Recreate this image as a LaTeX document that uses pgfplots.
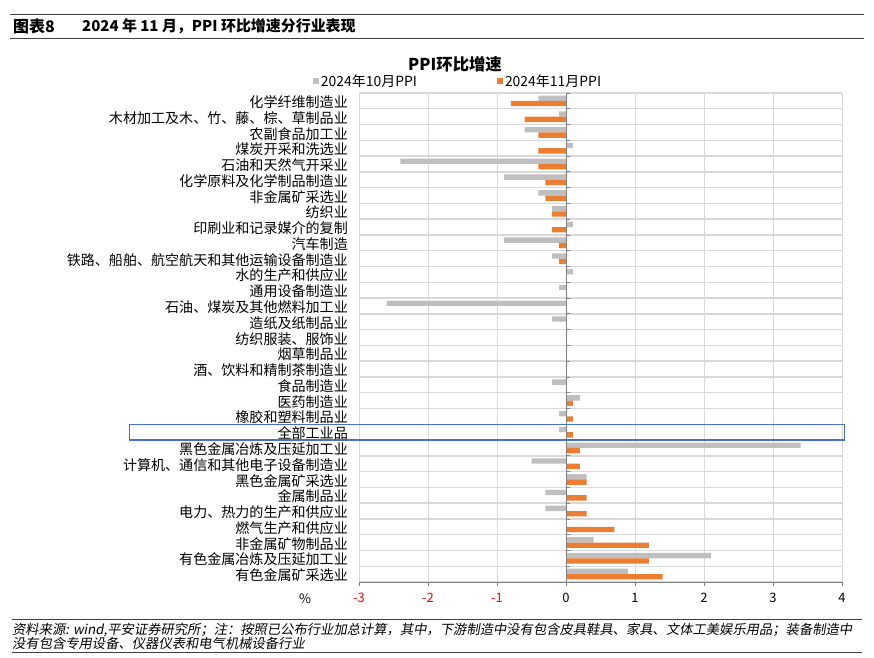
\documentclass[border=0pt]{standalone}
\usepackage{fontspec}
\setmainfont{Noto Sans CJK SC}
\newfontfamily\slantfont{Noto Sans CJK SC}[FakeSlant=0.18]
\usepackage{pgfplots}
\pgfplotsset{compat=1.18}

\definecolor{octgray}{HTML}{BFBFBF}
\definecolor{novorange}{HTML}{ED7D31}
\definecolor{gridgray}{HTML}{D9D9D9}
\definecolor{axisgray}{HTML}{808080}
\definecolor{boxblue}{HTML}{4472C4}
\definecolor{headgray}{HTML}{404040}

% y = 1 is the bottom row (有色金属矿采选业), y = 31 the top row
\begin{document}
\begin{tikzpicture}
\useasboundingbox (0,0) rectangle (874bp,658bp);

% header
\draw[headgray, line width=1bp] (10bp,643.7bp) -- (864bp,643.7bp);
\draw[headgray, line width=1bp] (10bp,619.7bp) -- (864bp,619.7bp);
\node[anchor=west, inner sep=0pt, font=\bfseries\fontsize{16}{18}\selectfont] at (13bp,631.3bp) {图表8};
\node[anchor=west, inner sep=0pt, font=\bfseries\fontsize{15}{17}\selectfont] at (82bp,631.3bp) {2024 年 11 月，PPI 环比增速分行业表现};

% chart title
\node[inner sep=0pt, font=\bfseries\fontsize{16.4}{18}\selectfont] at (455bp,593.7bp) {PPI环比增速};

\begin{axis}[
  at={(359bp,76bp)}, anchor=south west,
  width=483bp, height=489bp, scale only axis,
  clip=false,
  xbar,
  xmin=-3, xmax=4, ymin=0.5, ymax=31.5,
  xtick={-3,-2,-1,0,1,2,3,4},
  xticklabels={{\color{red}-3},{\color{red}-2},{\color{red}-1},0,1,2,3,4},
  xticklabel style={anchor=center, yshift=-11.5bp, font=\fontsize{13}{15}\selectfont},
  ytick={1,...,31},
  yticklabels={{有色金属矿采选业},{有色金属冶炼及压延加工业},{非金属矿物制品业},{燃气生产和供应业},
    {电力、热力的生产和供应业},{金属制品业},{黑色金属矿采选业},{计算机、通信和其他电子设备制造业},
    {黑色金属冶炼及压延加工业},{全部工业品},{橡胶和塑料制品业},{医药制造业},{食品制造业},
    {酒、饮料和精制茶制造业},{烟草制品业},{纺织服装、服饰业},{造纸及纸制品业},
    {石油、煤炭及其他燃料加工业},{通用设备制造业},{水的生产和供应业},
    {铁路、船舶、航空航天和其他运输设备制造业},{汽车制造},{印刷业和记录媒介的复制},{纺织业},
    {非金属矿采选业},{化学原料及化学制品制造业},{石油和天然气开采业},{煤炭开采和洗选业},
    {农副食品加工业},{木材加工及木、竹、藤、棕、草制品业},{化学纤维制造业}},
  yticklabel style={anchor=east, inner sep=0pt, xshift=-7bp, yshift=-1.2bp, font=\fontsize{14.1}{16}\selectfont},
  minor ytick={0.5,1.5,...,31.5},
  xmajorgrids, yminorgrids,
  major grid style={draw=gridgray, line width=1bp},
  minor grid style={draw=gridgray, line width=1.4bp},
  major tick length=4bp, minor tick length=0pt,
  tick align=outside,
  xtick style={draw=axisgray},
  ytick style={draw=none},
  axis x line*=bottom,
  x axis line style={draw=axisgray, line width=0.8bp},
  y axis line style={draw=none},
  bar width=0.34,
  legend columns=2,
  legend style={at={(0.205,1.0245)}, anchor=center, draw=none, fill=none,
    font=\fontsize{14}{16}\selectfont,
    /tikz/every even column/.append style={column sep=78bp}},
  legend image code/.code={\fill[#1] (0bp,-3bp) rectangle (6bp,3bp);},
]
\addplot[fill=octgray, draw=none, bar shift=0.17] coordinates {
  (0.9,1) (2.1,2) (0.4,3) (0,4) (-0.3,5) (-0.3,6) (0.3,7) (-0.5,8) (3.4,9) (-0.1,10)
  (-0.1,11) (0.2,12) (-0.2,13) (0,14) (0,15) (0,16) (-0.2,17) (-2.6,18) (-0.1,19) (0.1,20)
  (-0.2,21) (-0.9,22) (0.1,23) (-0.2,24) (-0.4,25) (-0.9,26) (-2.4,27) (0.1,28) (-0.6,29)
  (-0.1,30) (-0.4,31)};
\addlegendentry{2024年10月PPI}
\addplot[fill=novorange, draw=none, bar shift=-0.17] coordinates {
  (1.4,1) (1.2,2) (1.2,3) (0.7,4) (0.3,5) (0.3,6) (0.3,7) (0.2,8) (0.2,9) (0.1,10)
  (0.1,11) (0.1,12) (0,13) (0,14) (0,15) (0,16) (0,17) (0,18) (0,19) (0,20)
  (-0.1,21) (-0.1,22) (-0.2,23) (-0.2,24) (-0.3,25) (-0.3,26) (-0.4,27) (-0.4,28) (-0.4,29)
  (-0.6,30) (-0.8,31)};
\addlegendentry{2024年11月PPI}

% category axis at x = 0 with ticks between categories
\draw[axisgray, line width=0.8bp] (axis cs:0,0.5) -- (axis cs:0,31.5);
\pgfplotsinvokeforeach{0.5,1.5,...,31.5}{
  \draw[axisgray, line width=0.8bp] (axis cs:0,#1) -- ++(4bp,0bp);
}
% highlight box around 全部工业品
\draw[boxblue, line width=1.3bp] (axis cs:-6.33,9.5) rectangle (axis cs:4.04,10.5);
\end{axis}

\node[inner sep=0pt, font=\fontsize{13}{15}\selectfont] at (305bp,59.7bp) {\%};

% source note
\draw[headgray, line width=1bp] (12bp,38.7bp) -- (862bp,38.7bp);
\node[anchor=west, inner sep=0pt, font=\slantfont\fontsize{13.35}{15}\selectfont] at (12bp,28bp)
  {资料来源: wind,平安证券研究所；注：按照已公布行业加总计算，其中，下游制造中没有包含皮具鞋具、家具、文体工美娱乐用品；装备制造中};
\node[anchor=west, inner sep=0pt, font=\slantfont\fontsize{13.35}{15}\selectfont] at (12bp,14.7bp)
  {没有包含专用设备、仪器仪表和电气机械设备行业};
\draw[headgray, line width=1bp] (12bp,5.3bp) -- (862bp,5.3bp);
\end{tikzpicture}
\end{document}
